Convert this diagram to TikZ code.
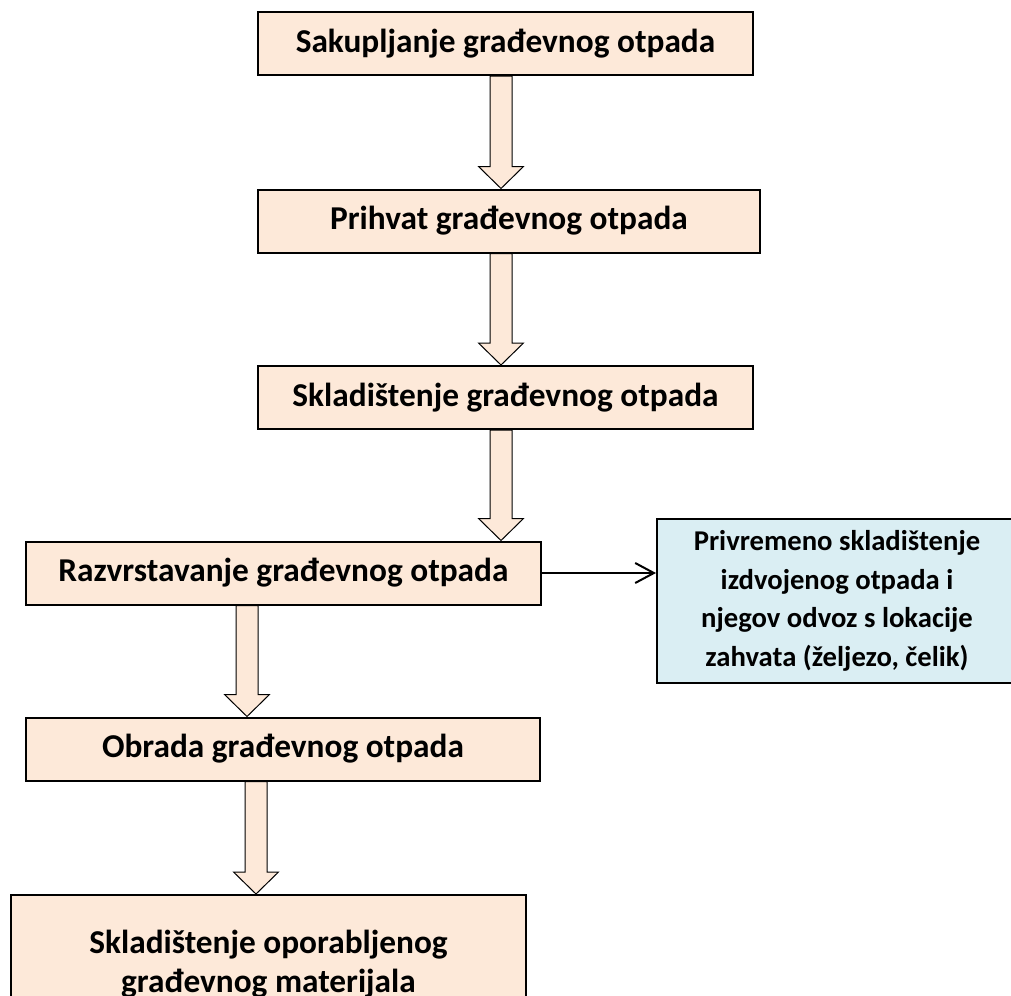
\documentclass[tikz,border=0pt]{standalone}
\usepackage{fontspec}
\setmainfont{Carlito}
\usetikzlibrary{calc,arrows.meta}

\definecolor{peach}{RGB}{253,233,217}
\definecolor{paleblue}{RGB}{218,238,243}

\tikzset{
  stagebox/.style={draw=black, line width=1.5pt, fill=peach, inner sep=0pt, align=center,
    minimum height=47.25pt, font=\bfseries\fontsize{25}{29.25}\selectfont},
  sidebox/.style={draw=black, line width=1.5pt, fill=paleblue, inner sep=0pt, align=center,
    font=\bfseries\fontsize{21.5}{28.9}\selectfont},
  blockarrow/.style={draw=black, line width=0.75pt, fill=peach, line join=miter},
  thinarrow/.style={draw=black, line width=1.5pt, -{Straight Barb[length=14pt,width=15pt,line width=1.5pt]}}
}

% block arrow from #1 down to the tip #2
\newcommand{\blockdown}[2]{%
  \draw [blockarrow] ($(#1)+(-11,0)$) -- ($(#1)+(11,0)$) -- ($(#2)+(11,-22)$) -- ($(#2)+(22.5,-22)$)
    -- (#2) -- ($(#2)+(-22.5,-22)$) -- ($(#2)+(-11,-22)$) -- cycle ;}

\begin{document}
\begin{tikzpicture}[x=0.75pt,y=0.75pt,yscale=-1,xscale=1]
        \useasboundingbox (0,0) rectangle (1011,996);

        % Text Node
        \node [stagebox, minimum width=371.25pt] (sakupljanje) at (505.5,43.5) {Sakupljanje građevnog otpada};
        % Text Node
        \node [stagebox, minimum width=376.5pt] (prihvat) at (509,221) {Prihvat građevnog otpada};
        % Text Node
        \node [stagebox, minimum width=371.25pt] (skladistenje) at (505.5,397.5) {Skladištenje građevnog otpada};
        % Text Node
        \node [stagebox, minimum width=386.25pt] (razvrstavanje) at (283.5,573) {Razvrstavanje građevnog otpada};
        % Text Node
        \node [sidebox, minimum width=270pt, minimum height=123pt] (privremeno) at (837,601) {Privremeno skladištenje\\izdvojenog otpada i\\njegov odvoz s lokacije\\zahvata (željezo, čelik)};
        % Text Node
        \node [stagebox, minimum width=385.5pt] (obrada) at (283,749) {Obrada građevnog otpada};
        % Text Node
        \node [stagebox, minimum width=386.25pt, minimum height=104.25pt] (oporaba) at (268.5,964.5) {Skladištenje oporabljenog\\građevnog materijala};

        % axes of the block arrows
        \coordinate (up) at (501,0);
        \coordinate (left) at (247,0);
        \coordinate (low) at (256,0);

        %Block Arrows
        \coordinate (a1) at (sakupljanje.south -| up);
        \coordinate (b1) at (prihvat.north -| up);
        \blockdown{a1}{b1}
        \coordinate (a2) at (prihvat.south -| up);
        \coordinate (b2) at (skladistenje.north -| up);
        \blockdown{a2}{b2}
        \coordinate (a3) at (skladistenje.south -| up);
        \coordinate (b3) at (razvrstavanje.north -| up);
        \blockdown{a3}{b3}
        \coordinate (a4) at (razvrstavanje.south -| left);
        \coordinate (b4) at (obrada.north -| left);
        \blockdown{a4}{b4}
        \coordinate (a5) at (obrada.south -| low);
        \coordinate (b5) at (oporaba.north -| low);
        \blockdown{a5}{b5}

        %Straight Lines
        \draw [thinarrow] (razvrstavanje.east) -- (razvrstavanje.east -| privremeno.west) ;

\end{tikzpicture}
\end{document}
